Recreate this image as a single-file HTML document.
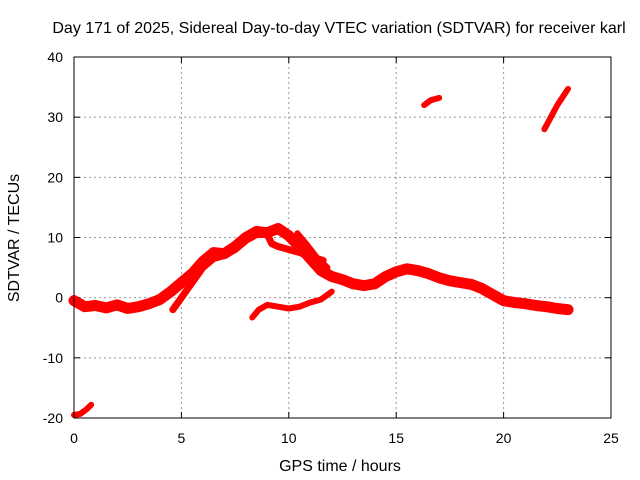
<!DOCTYPE html>
<html><head><meta charset="utf-8"><style>
body{margin:0;background:#fff}
svg{display:block;font-family:"Liberation Sans",sans-serif}
</style></head><body>
<svg id="chart" width="640" height="480">
<text x="339" y="33" font-size="16" text-anchor="middle">Day 171 of 2025, Sidereal Day-to-day VTEC variation (SDTVAR) for receiver karl</text>
<text x="340" y="471" font-size="16" text-anchor="middle">GPS time / hours</text>
<text transform="translate(19,238) rotate(-90)" font-size="16" text-anchor="middle">SDTVAR / TECUs</text>
<g id="grid"></g><g id="ticks"></g><g id="series"></g>
<rect x="74" y="57" width="537" height="361" fill="none" stroke="#000"/>
</svg>
<script>
const xTicks=[0,5,10,15,20,25];
const yTicks=[-20,-10,0,10,20,30,40];
const trackMainH=[0,0.5,1,1.5,2,2.5,3,3.5,4,4.5,5,5.5,6,6.5,7,7.5,8,8.5,9,9.5,10,10.5,11,11.5,12,12.5,13,13.5,14,14.5,15,15.5,16,16.5,17,17.5,18,18.5,19,19.5,20,20.5,21,21.5,22,22.5,23];
const trackMainV=[-0.5,-1.5,-1.3,-1.7,-1.2,-1.8,-1.5,-1,-0.3,1,2.5,4,6,7.5,7.3,8.5,10,11,10.8,11.5,10.3,8.5,6.5,4.5,3.5,3,2.3,2,2.3,3.5,4.3,4.8,4.5,4,3.3,2.8,2.5,2.2,1.5,0.5,-0.5,-0.8,-1,-1.3,-1.5,-1.8,-2];
const trackBH=[4.6,5,5.5,6,6.5,7,7.5,8,8.5,9,9.2,9.5,10,10.5,11,11.6];
const trackBV=[-2,0,2.5,5,6.5,7,8,9.5,10.5,10.5,9,8.5,8,7.5,6.8,6.2];
const trackB2H=[10.4,10.8,11.3,11.8];
const trackB2V=[10.7,9,6.7,5];
const trackCH=[8.3,8.6,9,9.5,10,10.5,11,11.5,12];
const trackCV=[-3.3,-2,-1.2,-1.5,-1.8,-1.5,-0.8,-0.3,1];
const trackDH=[0,0.3,0.6,0.8];
const trackDV=[-19.5,-19.3,-18.5,-17.8];
const trackEH=[16.3,16.6,17];
const trackEV=[32,32.8,33.2];
const trackFH=[21.9,22.2,22.5,23];
const trackFV=[28,30,32,34.7];
const X=h=>74+h*537/25, Y=v=>418-(v+20)*361/60;
const NS="http://www.w3.org/2000/svg";
const g=document.getElementById('grid'),t=document.getElementById('ticks'),s=document.getElementById('series');
function mk(tag,a,p){const e=document.createElementNS(NS,tag);for(const k in a)e.setAttribute(k,a[k]);p.appendChild(e);return e;}
xTicks.forEach(v=>{const x=X(v);
 if(v>0&&v<25){const l=mk('line',{x1:x,x2:x,y1:57,y2:418,stroke:'#999','stroke-dasharray':'2,3'},g);
 
 }
 mk('line',{x1:x,x2:x,y1:418,y2:412,stroke:'#000'},t);mk('line',{x1:x,x2:x,y1:57,y2:63,stroke:'#000'},t);
 const tx=mk('text',{x:x,y:443,'font-size':14,'text-anchor':'middle'},t);tx.textContent=v;
 
 });
yTicks.forEach(v=>{const y=Y(v);
 if(v>-20&&v<40){const l=mk('line',{x1:74,x2:611,y1:y,y2:y,stroke:'#999','stroke-dasharray':'2,3'},g);
 
 }
 mk('line',{x1:74,x2:80,y1:y,y2:y,stroke:'#000'},t);mk('line',{x1:605,x2:611,y1:y,y2:y,stroke:'#000'},t);
 const tx=mk('text',{x:63,y:y+5,'font-size':14,'text-anchor':'end'},t);tx.textContent=v;
 
 });
[[trackMainH,trackMainV,11,'main-track'],[trackBH,trackBV,7,'secondary-track'],[trackB2H,trackB2V,6,'branch-track'],[trackCH,trackCV,6,'low-track'],[trackDH,trackDV,6,'start-track'],[trackEH,trackEV,6,'high-track-1'],[trackFH,trackFV,6,'high-track-2']].forEach(([H,V,w,n])=>{
 const pts=H.map((h,i)=>X(h)+','+Y(V[i])).join(' ');
 const p=mk('polyline',{points:pts,fill:'none',stroke:'#f00','stroke-width':w,'stroke-linejoin':'round','stroke-linecap':'round'},s);
 
 });
</script>
</body></html>
